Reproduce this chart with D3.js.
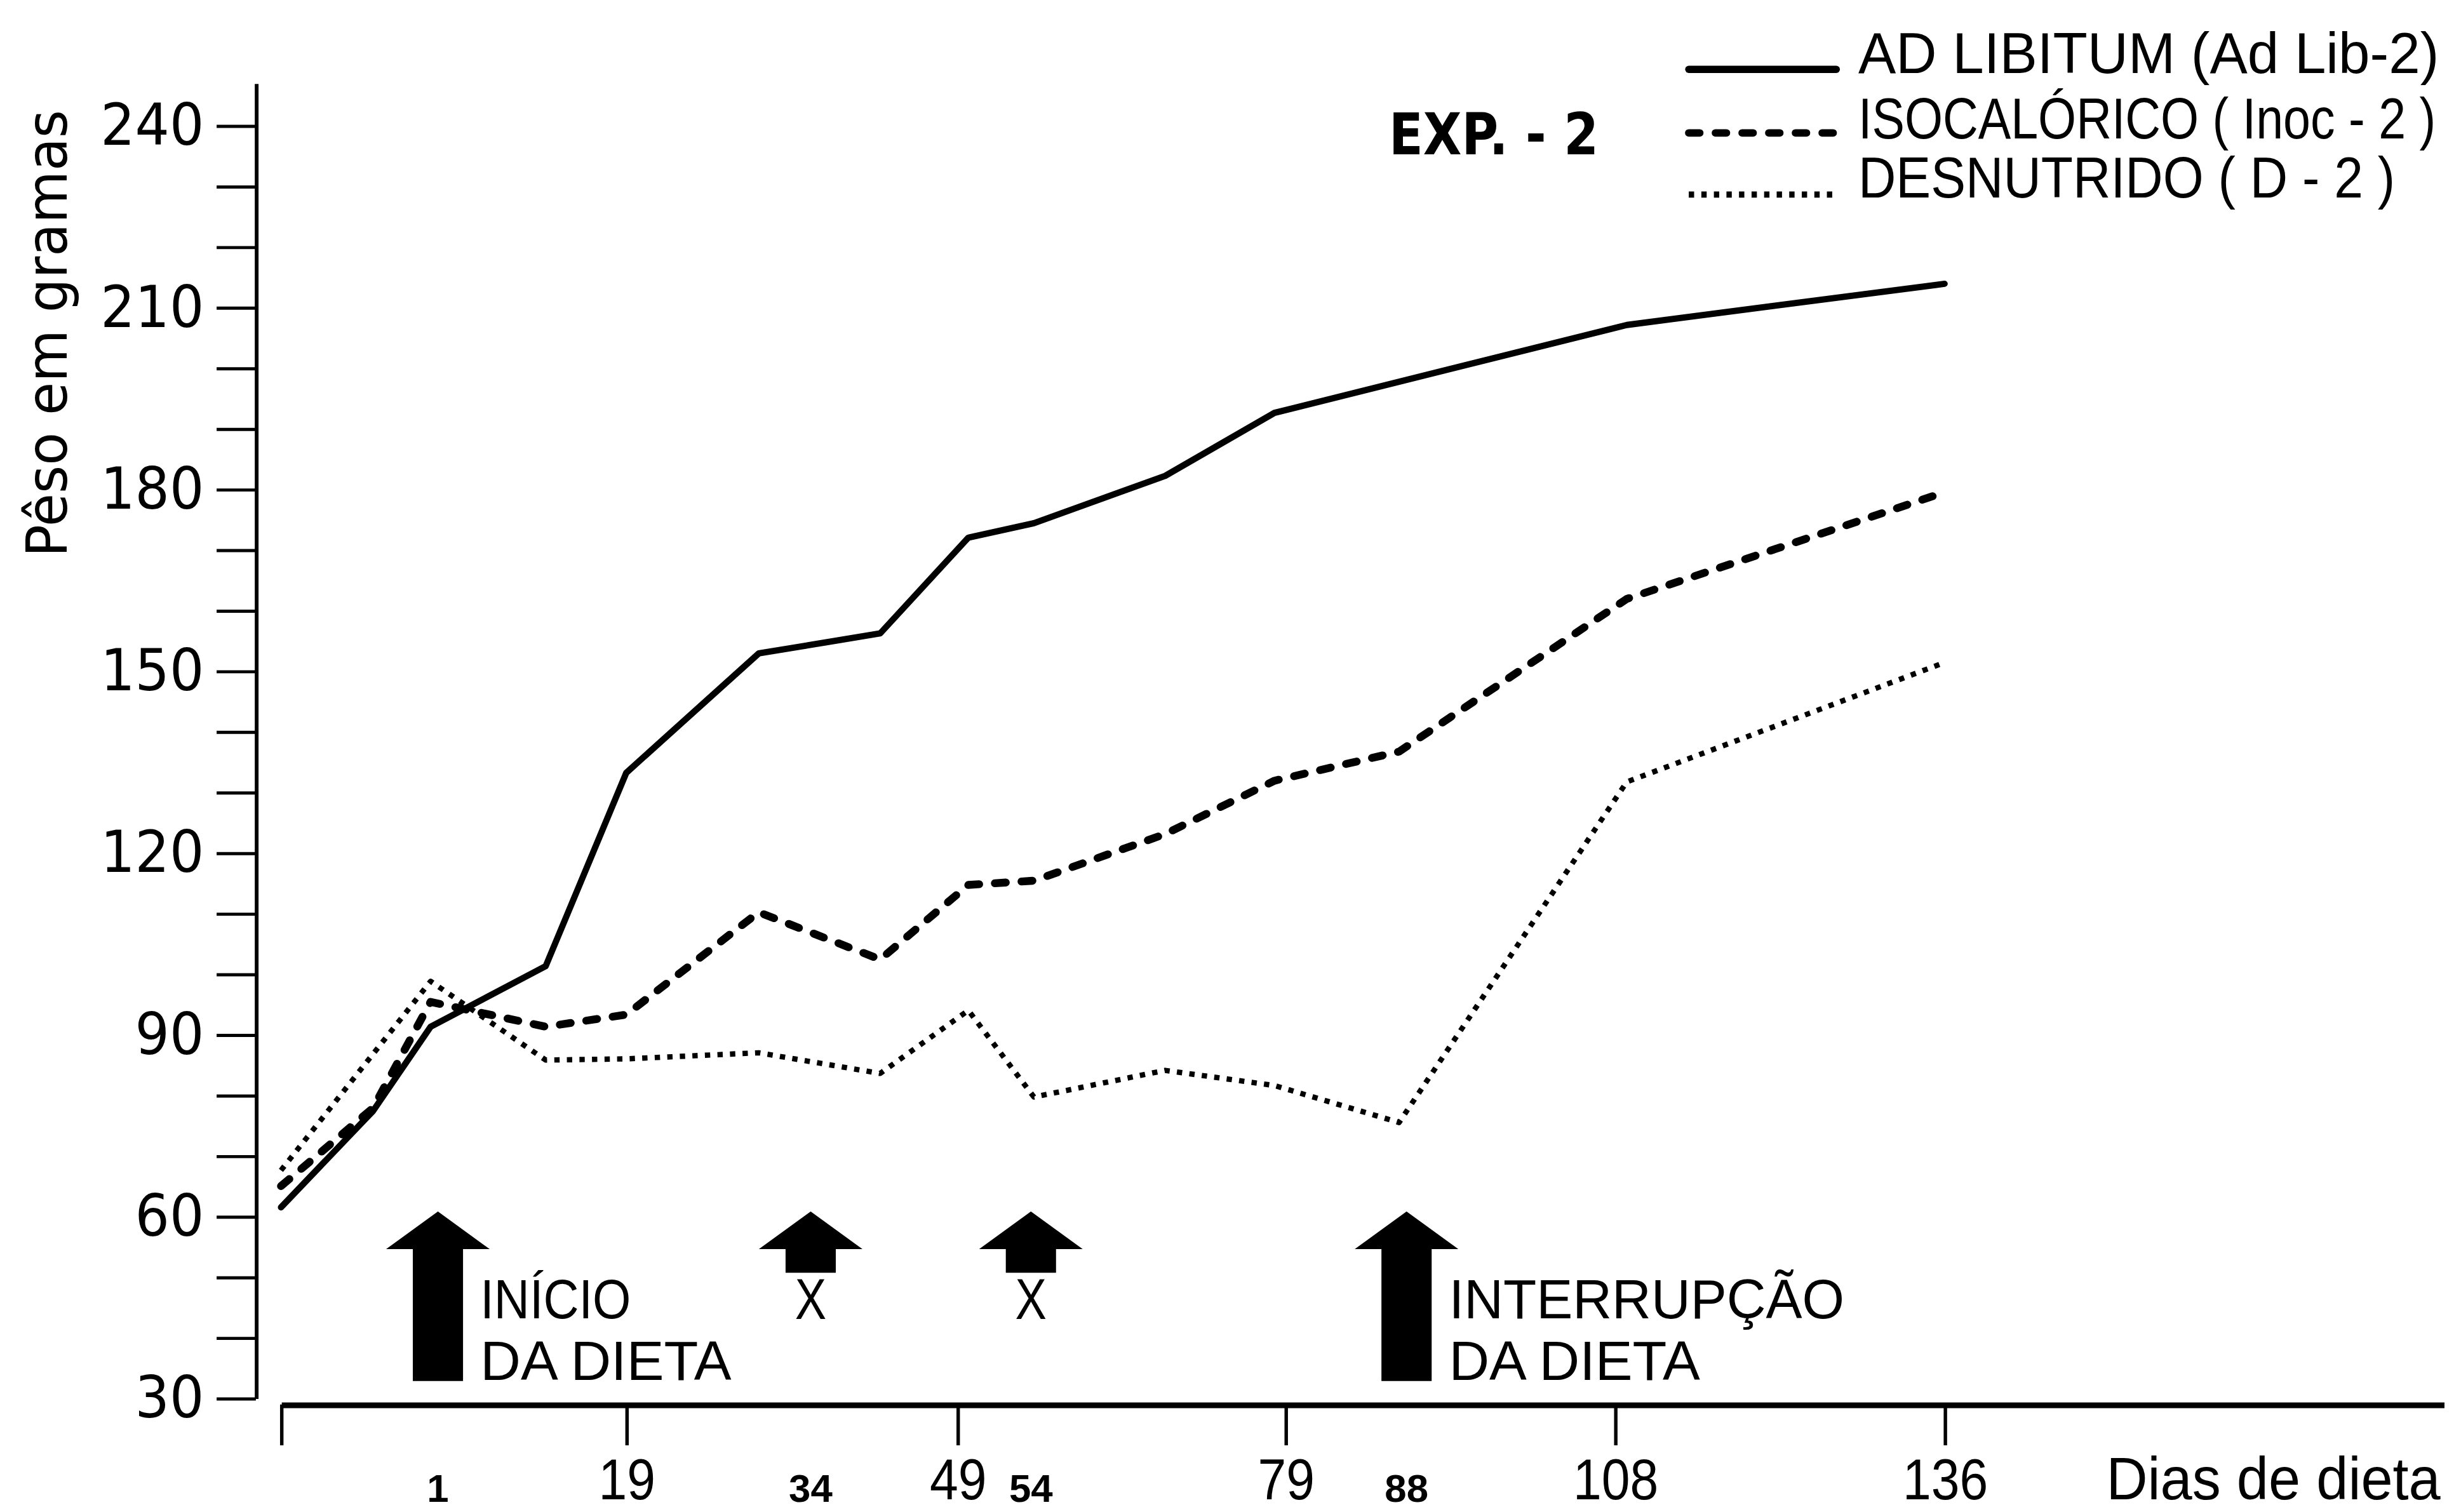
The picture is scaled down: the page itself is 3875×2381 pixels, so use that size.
<!DOCTYPE html>
<meta charset="utf-8">
<style>
  body { margin: 0; background: #fff; }
  svg { display: block; }
  .lettering { font-family: "Liberation Sans", Arial, sans-serif; fill: #000; }
  .wide { font-family: "DejaVu Sans", sans-serif; fill: #000; }
</style>
<script src="https://d3js.org/d3.v7.min.js"></script>
<div id="chart"></div>
<script>

// days of weighing and weights (g)
var daysAdLib = [-11, -3, 2, 12, 19, 31, 42, 50, 56, 68, 78, 109, 136];
var adLib     = [61.5, 77.4, 91.3, 101.3, 133.2, 152.9, 156.2, 172.0, 174.4, 182.2, 192.6, 207.1, 213.9];

var daysIsoc  = [-11, -3, 2, 12, 19, 31, 42, 50, 56, 68, 78, 89, 109, 136];
var isoc      = [65.0, 77.9, 95.4, 91.3, 93.3, 110.2, 102.4, 114.7, 115.4, 123.1, 131.9, 136.7, 161.9, 179.5];

var daysDesn  = [-11, 2, 12, 19, 31, 42, 50, 56, 68, 78, 89, 109, 136];
var desn      = [67.6, 98.8, 85.8, 86.0, 87.0, 83.6, 94.0, 79.7, 84.1, 81.6, 75.5, 131.7, 151.4];

// axis ticks
var xTicks = [-11, 19, 49, 79, 108, 136];
var yTicks = [30, 40, 50, 60, 70, 80, 90, 100, 110, 120, 130, 140, 150, 160, 170,
              180, 190, 200, 210, 220, 230, 240];

// arrows under the curves
var arrowDays  = [1, 34, 54, 88];
var arrowLong  = [true, false, false, true];
var arrowNotes = [["INÍCIO", "DA DIETA"], ["X"], ["X"], ["INTERRUPÇÃO", "DA DIETA"]];

var legendNames = ["AD LIBITUM (Ad Lib-2)", "ISOCALÓRICO ( Inoc - 2 )", "DESNUTRIDO ( D - 2 )"];

// drawing is done in a 1568 wide box, scaled up to the window
var W = 1568, H = 963.5;

var svg = d3.select("#chart")
  .append("svg")
    .attr("width", 3875)
    .attr("height", 2381)
    .attr("viewBox", "0 0 " + W + " " + H);

// x: the weighing ticks are evenly spaced, so the scale is piecewise
var x = d3.scaleLinear()
  .domain([-11, 19, 49, 79, 108, 136, 178])
  .range([179, 399, 610, 819, 1029, 1239, 1557]);

var y = d3.scaleLinear()
  .domain([30, 247])
  .range([891, 53]);

// Y axis
var yAxis = svg.append("g")
  .attr("transform", "translate(163,0)")
  .call(d3.axisLeft(y)
    .tickValues(yTicks)
    .tickSize(25)
    .tickSizeOuter(0)
    .tickPadding(8)
    .tickFormat(function(d) { return d % 30 === 0 ? d : ""; }));
yAxis.select(".domain").attr("stroke-width", 2.4);
yAxis.selectAll(".tick line").attr("stroke-width", 2);
yAxis.selectAll("text")
  .attr("class", "wide")
  .attr("font-family", null)
  .attr("textLength", function(d) { return d % 30 === 0 ? String(d).length * 22 : null; })
  .attr("lengthAdjust", "spacingAndGlyphs")
  .style("font-size", "37px");

// X axis
var xAxis = svg.append("g")
  .attr("transform", "translate(0,895)")
  .call(d3.axisBottom(x)
    .tickValues(xTicks)
    .tickSize(26)
    .tickSizeOuter(0)
    .tickFormat(function(d) { return d < 0 ? "" : d; }));
xAxis.select(".domain").attr("stroke-width", 3.6);
xAxis.selectAll(".tick line").attr("stroke-width", 2.2);
xAxis.selectAll("text")
  .attr("class", "lettering")
  .attr("font-family", null)
  .attr("y", 60.5)
  .attr("dy", 0)
  .attr("transform", "scale(0.88,1)")
  .style("font-size", "37px");

svg.append("text")
  .attr("class", "lettering")
  .attr("x", 1342)
  .attr("y", 955.5)
  .attr("textLength", 213)
  .attr("lengthAdjust", "spacingAndGlyphs")
  .style("font-size", "38px")
  .text("Dias de dieta");

svg.append("text")
  .attr("class", "wide")
  .attr("text-anchor", "middle")
  .attr("transform", "translate(42.5,212.5)rotate(-90)")
  .attr("textLength", 285)
  .attr("lengthAdjust", "spacingAndGlyphs")
  .style("font-size", "36px")
  .text("Pêso em gramas");

svg.append("text")
  .attr("class", "wide")
  .attr("x", 885)
  .attr("y", 98.5)
  .attr("textLength", 133.5)
  .attr("lengthAdjust", "spacingAndGlyphs")
  .style("font-size", "37px")
  .style("font-weight", "bold")
  .text("EXP. - 2");

// curves
var series = [
  {days: daysAdLib, w: adLib, width: 4,   dash: null,      cap: "round"},
  {days: daysIsoc,  w: isoc,  width: 5,   dash: "7,10",    cap: "round"},
  {days: daysDesn,  w: desn,  width: 3.4, dash: "3.4,4.6", cap: "butt"}
];

var line = d3.line()
  .x(function(d) { return x(d[0]); })
  .y(function(d) { return y(d[1]); });

series.forEach(function(s) {
  svg.append("path")
    .datum(d3.zip(s.days, s.w))
    .attr("fill", "none")
    .attr("stroke", "#000")
    .attr("stroke-width", s.width)
    .attr("stroke-linejoin", "round")
    .attr("stroke-linecap", s.cap)
    .attr("stroke-dasharray", s.dash)
    .attr("d", line);
});

// legend (top right)
var legendY = [44.2, 84.7, 124];
var legendBase = [46.5, 88.4, 126];
var legendLen = [370, 368, 342];
var legendWidth = [4.6, 4.8, 4];

series.forEach(function(s, i) {
  svg.append("line")
    .attr("x1", 1076)
    .attr("x2", 1170)
    .attr("y1", legendY[i])
    .attr("y2", legendY[i])
    .attr("stroke", "#000")
    .attr("stroke-width", legendWidth[i])
    .attr("stroke-linecap", s.cap)
    .attr("stroke-dasharray", s.dash);

  // squeeze the text to its width in the figure
  var t = svg.append("text")
    .attr("class", "lettering")
    .style("font-size", "36.5px")
    .text(legendNames[i]);
  var natural = t.node().getComputedTextLength();
  t.attr("transform", "translate(1184," + legendBase[i] + ")scale(" + (legendLen[i] / natural) + ",1)");
});

// arrows, with their day labels and notes
var shift = 12;

arrowDays.forEach(function(day, i) {
  var cx = x(day) + shift;
  var bottom = arrowLong[i] ? 880 : 811;

  svg.append("path")
    .attr("fill", "#000")
    .attr("d", "M" + (cx - 16) + "," + bottom +
               "V796H" + (cx - 33) +
               "L" + cx + ",772" +
               "L" + (cx + 33) + ",796" +
               "H" + (cx + 16) +
               "V" + bottom + "Z");

  svg.append("text")
    .attr("class", "lettering")
    .attr("x", cx)
    .attr("y", 957)
    .attr("text-anchor", "middle")
    .style("font-size", "25px")
    .style("font-weight", "bold")
    .text(day);

  var notes = arrowNotes[i];
  if (notes.length === 1) {
    svg.append("text")
      .attr("class", "lettering")
      .attr("x", cx)
      .attr("y", 840.5)
      .attr("text-anchor", "middle")
      .attr("textLength", 20)
      .attr("lengthAdjust", "spacingAndGlyphs")
      .style("font-size", "37px")
      .text(notes[0]);
  } else {
    notes.forEach(function(t, j) {
      var len = t === "DA DIETA" ? 160 : (t === "INÍCIO" ? 96 : 252);
      svg.append("text")
        .attr("class", "lettering")
        .attr("x", cx + 27)
        .attr("y", j === 0 ? 840 : 879.5)
        .attr("textLength", len)
        .attr("lengthAdjust", "spacingAndGlyphs")
        .style("font-size", "35px")
        .text(t);
    });
  }
});

</script>
